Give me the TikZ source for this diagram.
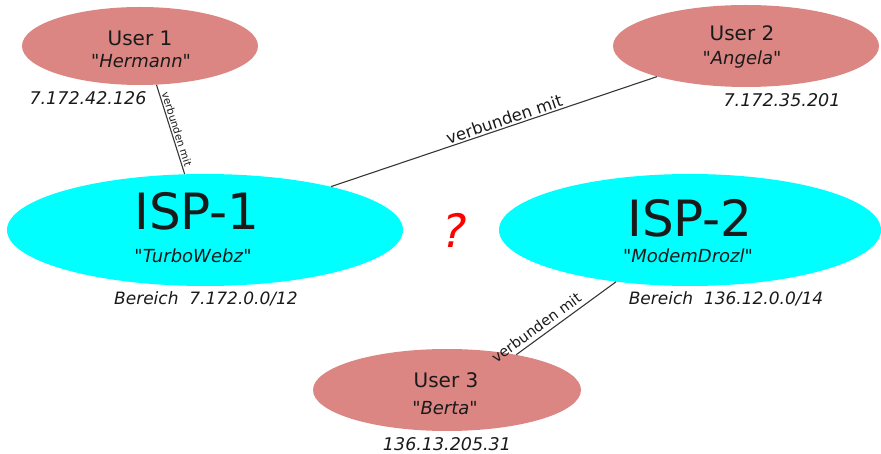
\documentclass[tikz,border=0pt]{standalone}
\usepackage{fontspec}
\setmainfont{DejaVu Sans}[Ligatures=TeXOff]
\usetikzlibrary{shapes.geometric}
\definecolor{userfill}{RGB}{219,134,131}
\definecolor{ispfill}{RGB}{0,255,255}
\definecolor{ink}{RGB}{26,26,26}
\definecolor{wire}{RGB}{55,55,55}
\newcommand{\straightq}{\symbol{34}}
\begin{document}
\begin{tikzpicture}[x=1pt,y=-1pt,
  userbox/.style={ellipse, fill=userfill, draw=none, inner sep=0pt},
  ispbox/.style={ellipse, fill=ispfill, draw=none, inner sep=0pt},
  fs/.style={font=\fontsize{#1}{#1}\selectfont},
  lbl/.style={text=ink, inner sep=0pt, anchor=base},
  wirestyle/.style={draw=wire, line width=1.1pt},
  wirelbl/.style={sloped, above, text=ink, inner sep=1.5pt}]
\useasboundingbox (0,0) rectangle (881,454);

% ellipses
\node[userbox, minimum width=236pt, minimum height=78pt] (u1) at (140,46) {};
\node[userbox, minimum width=266pt, minimum height=82pt] (u2) at (746,46) {};
\node[ispbox, minimum width=396pt, minimum height=112pt] (isp1) at (205,230) {};
\node[ispbox, minimum width=382pt, minimum height=112pt] (isp2) at (690,230) {};
\node[userbox, minimum width=268pt, minimum height=82pt] (u3) at (447,390) {};

% connectors
\draw[wirestyle] (u1.-67) -- node[wirelbl, pos=0.52, fs=10.5] {verbunden mit} (isp1.110);
\draw[wirestyle] (isp1.19) -- node[wirelbl, pos=0.54, fs=16.5] {verbunden mit} (u2.-161);
\draw[wirestyle] (u3.27.5) -- node[wirelbl, pos=0.26, fs=14.5, above=2.5pt] {verbunden mit} (isp2.-145);

% User 1
\node[lbl, fs=20] (u1t) at (140,46) {User 1};
\node[lbl, fs=18] (u1n) at (141,68) {\straightq\textit{Hermann}\straightq};
\node[lbl, fs=17.5] (u1ip) at (88,105) {\textit{7.172.42.126}};

% User 2
\node[lbl, fs=20] (u2t) at (742,41) {User 2};
\node[lbl, fs=18] (u2n) at (742,65) {\straightq\textit{Angela}\straightq};
\node[lbl, fs=17.5] (u2ip) at (782,107) {\textit{7.172.35.201}};

% User 3
\node[lbl, fs=20] (u3t) at (446,388) {User 3};
\node[lbl, fs=18] (u3n) at (445,414) {\straightq\textit{Berta}\straightq};
\node[lbl, fs=17.5] (u3ip) at (447,450) {\textit{136.13.205.31}};

% ISP-1
\node[lbl, fs=50] (i1t) at (197,230) {ISP-1};
\node[lbl, fs=18] (i1n) at (193,263) {\straightq\textit{TurboWebz}\straightq};
\node[lbl, fs=17] (i1r) at (206,305) {\textit{Bereich\ \ 7.172.0.0/12}};

% ISP-2
\node[lbl, fs=50] (i2t) at (690,237) {ISP-2};
\node[lbl, fs=18] (i2n) at (688,263) {\straightq\textit{ModemDrozl}\straightq};
\node[lbl, fs=17] (i2r) at (726,305) {\textit{Bereich\ \ 136.12.0.0/14}};

% question mark
\node[lbl, fs=46, text=red] (q) at (455,248) {\textit{?}};
\end{tikzpicture}
\end{document}
